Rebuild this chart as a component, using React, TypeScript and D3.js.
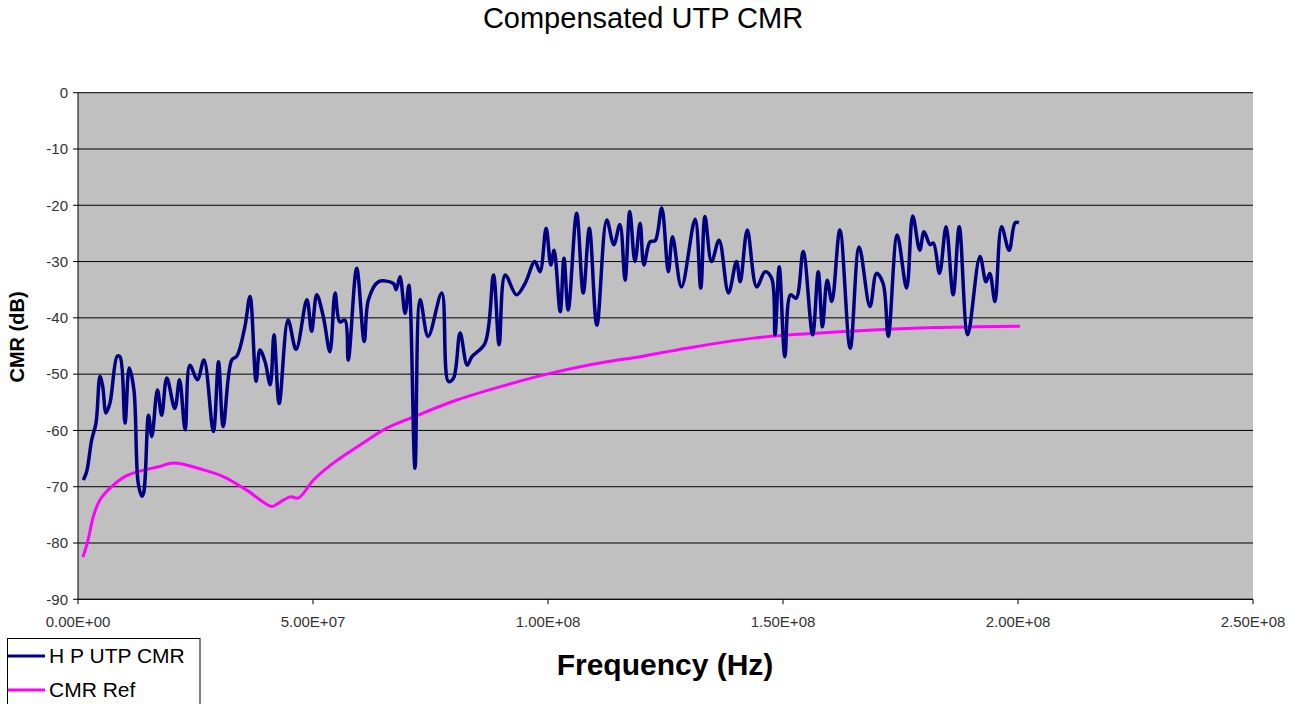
import React from "react";
import * as d3 from "d3";

// ---- data (frequency in MHz, CMR in dB) ----
const hpFreqMHz = [
  1.13, 1.85, 2.91, 3.83, 4.68, 5.26, 5.96, 6.81, 8.36, 8.94, 10.0, 10.9, 11.9, 12.8, 13.6, 14.0,
  15.0, 15.7, 16.9, 17.8, 18.9, 20.6, 21.6, 22.8, 23.8, 25.4, 26.8, 28.8, 29.9, 30.9, 32.7, 33.8,
  35.5, 36.6, 37.9, 38.7, 39.8, 40.9, 41.7, 42.8, 44.7, 46.4, 48.7, 49.7, 50.8, 52.2, 53.6, 54.7,
  55.7, 56.8, 57.5, 59.3, 60.9, 61.8, 63.9, 67.1, 67.7, 68.5, 69.6, 70.4, 71.7, 72.8, 74.5, 77.4,
  78.8, 79.9, 81.3, 82.8, 83.8, 86.6, 88.4, 89.6, 90.9, 93.3, 95.1, 97.2, 98.3, 99.6, 100.6, 101.3,
  102.6, 103.4, 104.3, 106.1, 107.5, 108.8, 110.4, 112.5, 114.0, 115.3, 116.4, 117.4, 118.5, 119.6,
  120.4, 121.7, 122.8, 124.2, 125.6, 126.5, 128.4, 131.3, 132.5, 133.4, 134.8, 136.4, 138.4, 140.1,
  140.9, 142.4, 144.4, 146.2, 147.6, 148.3, 149.2, 150.4, 151.6, 152.8, 154.3, 156.3, 157.5, 158.4,
  159.4, 160.4, 162.1, 164.3, 166.2, 168.5, 169.9, 171.3, 172.4, 174.3, 176.3, 177.6, 179.1, 180.0,
  181.3, 182.0, 183.3, 184.7, 186.2, 187.5, 189.3, 191.9, 193.2, 194.0, 195.1, 196.5, 198.1, 199.4,
  200.2,
];
const hpCMR = [
  -68.8, -67.3, -61.7, -58.7, -50.4, -52.2, -56.9, -55.1, -46.8, -46.9, -58.7, -48.9, -52.8, -69.3, -71.7, -71.0,
  -57.3, -61.1, -52.8, -57.3, -50.7, -56.1, -51.0, -59.9, -48.4, -51.0, -47.5, -60.2, -47.8, -59.3, -47.5, -46.8,
  -41.6, -36.2, -51.3, -45.7, -47.8, -51.9, -43.0, -55.2, -40.4, -45.6, -36.8, -42.4, -35.9, -39.8, -46.0, -35.6,
  -40.7, -40.4, -47.5, -31.2, -44.2, -36.8, -33.6, -33.9, -35.0, -32.7, -39.2, -34.2, -66.7, -36.8, -43.3, -35.6,
  -51.3, -50.7, -42.7, -48.4, -46.9, -44.5, -32.4, -44.8, -32.4, -35.9, -33.9, -30.0, -31.8, -24.1, -30.6, -28.0,
  -38.9, -29.4, -38.6, -21.4, -35.6, -24.1, -41.3, -22.6, -27.0, -23.4, -33.3, -21.1, -30.0, -23.2,
  -30.6, -26.5, -26.3, -20.5, -31.8, -25.6, -34.5, -22.5, -34.7, -22.0, -30.0, -26.2, -35.6, -30.0,
  -33.6, -24.4, -34.5, -31.8, -33.0, -43.0, -30.9, -46.9, -35.9, -36.5, -28.2, -43.0, -31.8, -41.6,
  -33.3, -37.1, -24.4, -45.4, -27.4, -38.0, -32.1, -33.9, -43.3, -25.3, -34.7, -21.9, -28.0, -24.7,
  -27.0, -26.7, -32.1, -23.8, -35.9, -23.8, -43.0, -29.1, -33.6, -32.1, -37.1, -23.8, -28.0, -23.1,
  -23.1,
];

const refFreqMHz = [
  1.06, 2.13, 3.26, 4.68, 7.51, 10.7, 17.4, 20.3, 26.7, 30.9, 35.9, 41.2, 42.5, 45.1, 46.9, 50.1,
  54.3, 60.0, 65.7, 71.7, 80.6, 91.2, 101.8, 112.5, 119.6, 129.5, 143.7, 157.9, 179.1, 183.4, 200.4,
];
const refCMR = [
  -82.5, -79.5, -75.3, -72.3, -69.7, -67.9, -66.4, -65.8, -67.0, -68.2, -70.6, -73.5, -73.0, -71.8, -72.0, -68.8,
  -65.8, -62.6, -59.6, -57.5, -54.6, -51.9, -49.6, -47.8, -46.9, -45.4, -43.6, -42.7, -41.8, -41.7, -41.5,
];

const xTicks = [0, 5e7, 1e8, 1.5e8, 2e8, 2.5e8];
const yTicks = [0, -10, -20, -30, -40, -50, -60, -70, -80, -90];

const seriesNames = ["H P UTP CMR", "CMR Ref"];
const seriesColors = ["#000080", "#FF00FF"];

const W = 1306;
const H = 704;
const plot = { left: 78, right: 1253, top: 92.7, bottom: 599.3 };
const FONT = "'Liberation Sans', Arial, sans-serif";

function sci(v: number): string {
  const [m, e] = v.toExponential(2).split("e");
  const sign = e[0];
  const digits = e.slice(1).padStart(2, "0");
  return `${m}E${sign}${digits}`;
}

export default function App() {
  const x = d3.scaleLinear().domain([0, 2.5e8]).range([plot.left, plot.right]);
  const y = d3.scaleLinear().domain([-90, 0]).range([plot.bottom, plot.top]);

  const line = d3
    .line<[number, number]>()
    .x((d) => x(d[0] * 1e6))
    .y((d) => y(d[1]))
    .curve(d3.curveCatmullRom.alpha(0.5));

  const hpData: [number, number][] = hpFreqMHz.map((f, i) => [f, hpCMR[i]]);
  const refData: [number, number][] = refFreqMHz.map((f, i) => [f, refCMR[i]]);

  return (
    <svg
      width={W}
      height={H}
      style={{ position: "absolute", left: 0, top: 0, background: "#fff" }}
      fontFamily={FONT}
    >
      <rect x={0} y={0} width={W} height={H} fill="#fff" />
      {/* title */}
      <text x={643} y={28} textAnchor="middle" fontSize={29} fill="#000">
        Compensated UTP CMR
      </text>

      {/* plot area */}
      <rect
        x={plot.left}
        y={plot.top}
        width={plot.right - plot.left}
        height={plot.bottom - plot.top}
        fill="#C0C0C0"
      />
      {/* gridlines */}
      {yTicks.map((t) => (
        <line
          key={"g" + t}
          x1={plot.left}
          x2={plot.right}
          y1={y(t)}
          y2={y(t)}
          stroke="#000"
          strokeWidth={1}
        />
      ))}
      {/* axes */}
      <line x1={plot.left} x2={plot.left} y1={plot.top} y2={plot.bottom} stroke="#000" strokeWidth={1} />
      <line x1={plot.left} x2={plot.right} y1={plot.bottom} y2={plot.bottom} stroke="#000" strokeWidth={1} />
      {yTicks.map((t) => (
        <g key={"y" + t}>
          <line x1={plot.left - 5} x2={plot.left} y1={y(t)} y2={y(t)} stroke="#000" />
          <text
            x={plot.left - 10}
            y={y(t)}
            dy="0.35em"
            textAnchor="end"
            fontSize={15}
            fill="#333"
          >
            {t}
          </text>
        </g>
      ))}
      {xTicks.map((t) => (
        <g key={"x" + t}>
          <line x1={x(t)} x2={x(t)} y1={plot.bottom} y2={plot.bottom + 5} stroke="#000" />
          <text x={x(t)} y={627} textAnchor="middle" fontSize={15} fill="#333">
            {sci(t)}
          </text>
        </g>
      ))}

      {/* series */}
      <path d={line(refData) || ""} fill="none" stroke={seriesColors[1]} strokeWidth={3} strokeLinejoin="round" />
      <path d={line(hpData) || ""} fill="none" stroke={seriesColors[0]} strokeWidth={3.5} strokeLinejoin="round" />

      {/* axis titles */}
      <text
        transform={`translate(24,337) rotate(-90)`}
        textAnchor="middle"
        fontSize={20}
        fontWeight="bold"
        fill="#000"
      >
        CMR (dB)
      </text>
      <text x={665} y={675} textAnchor="middle" fontSize={30} fontWeight="bold" fill="#000">
        Frequency (Hz)
      </text>

      {/* legend */}
      <rect x={7.5} y={638.5} width={192.5} height={80} fill="#fff" stroke="#000" strokeWidth={1} />
      {seriesNames.map((n, i) => (
        <g key={n}>
          <line
            x1={8}
            x2={45}
            y1={656 + i * 34}
            y2={656 + i * 34}
            stroke={seriesColors[i]}
            strokeWidth={3}
          />
          <text x={49} y={663 + i * 34} fontSize={21} fill="#000">
            {n}
          </text>
        </g>
      ))}
    </svg>
  );
}
